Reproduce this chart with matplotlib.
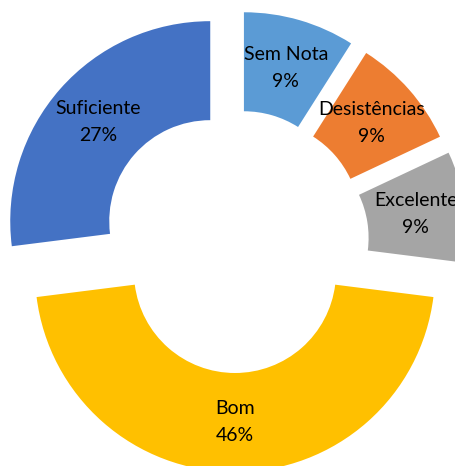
import matplotlib
matplotlib.use("Agg")
import matplotlib.pyplot as plt

categories = ["Sem Nota", "Desistências", "Excelente", "Bom", "Suficiente"]
values = [9, 9, 9, 46, 27]
colors = ["#5B9BD5", "#ED7D31", "#A5A5A5", "#FFC000", "#4472C4"]
explode = [0.16, 0.16, 0.165, 0.145, 0.165]

plt.rcParams['font.family'] = ['Lato', 'DejaVu Sans']

fig = plt.figure(figsize=(4.55, 4.66), dpi=100)
ax = fig.add_axes([0, 0, 1, 1])

labels = [f"{c}\n{v}%" for c, v in zip(categories, values)]
wedges, texts = ax.pie(values, colors=colors, startangle=90, counterclock=False,
                       explode=explode, radius=1.0, labels=labels, labeldistance=0.75,
                       wedgeprops=dict(width=0.495, edgecolor='none'),
                       textprops=dict(fontsize=14, color='black'))
for t in texts:
    t.set_horizontalalignment('center')
    t.set_verticalalignment('center')
    t.set_linespacing(1.72)

ax.set_aspect('auto')
ax.set_xlim(-1.175, 1.1)
ax.set_ylim(-1.115, 1.215)
ax.axis('off')

fig.savefig("out.png", dpi=100)
